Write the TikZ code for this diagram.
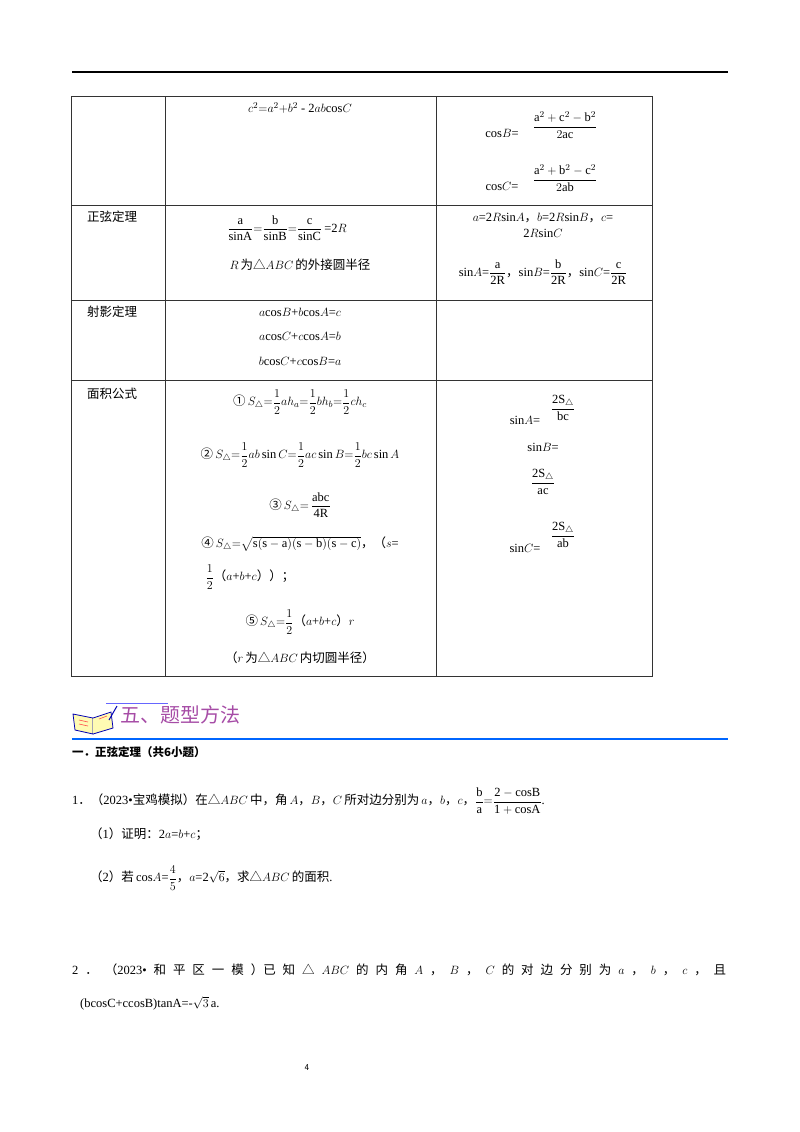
\documentclass[tikz,border=0pt]{standalone}
\usepackage{fontspec}
\usepackage{amsmath}
\setmainfont{Liberation Serif}
\newfontfamily\cjk{Noto Sans CJK SC}
\newcommand{\zh}[1]{{\cjk #1}}
\newcommand{\CO}{\zh{，}}
\newcommand{\LP}{\zh{（}}
\newcommand{\RP}{\zh{）}}
\newcommand{\TR}{\zh{△}}
\newcommand{\SC}{\zh{；}}
\begin{document}
\begin{tikzpicture}[x=1pt,y=-1pt,
  t/.style={inner sep=0pt,font=\fontsize{12.5}{14}\selectfont},
  tl/.style={t,anchor=west},
  grid/.style={line width=0.8pt,black!80}]
\useasboundingbox (0,0) rectangle (800,1132);
\draw[line width=1.2pt] (72,72) -- (728,72);
% table
\draw[grid] (71,96) rectangle (652,676);
\foreach \y in {205,300,380} \draw[grid] (71,\y) -- (652,\y);
\foreach \x in {165,436} \draw[grid] (\x,96) -- (\x,676);
% col 1
\node[t] (l1) at (112,217) {\zh{正弦定理}};
\node[t] (l2) at (112,312) {\zh{射影定理}};
\node[t] (l3) at (112,394) {\zh{面积公式}};
% row1
\node[t] (r1a) at (300,108) {$c^2{=}a^2{+}b^2$ - 2$ab$cos$C$};
\node[t] (r1b) at (502,133) {cos$B$=};
\node[t] (r1c) at (565,125) {$\dfrac{\mathrm{a}^2+\mathrm{c}^2-\mathrm{b}^2}{2\mathrm{ac}}$};
\node[t] (r1d) at (502,186) {cos$C$=};
\node[t] (r1e) at (565,178) {$\dfrac{\mathrm{a}^2+\mathrm{b}^2-\mathrm{c}^2}{2\mathrm{ab}}$};
% row2
\node[t] (r2a) at (287,228) {$\dfrac{\mathrm{a}}{\mathrm{sinA}}{=}\dfrac{\mathrm{b}}{\mathrm{sinB}}{=}\dfrac{\mathrm{c}}{\mathrm{sinC}}$\,=2$R$};
\node[t] (r2b) at (300,265) {$R$\,\zh{为}\TR$ABC$\,\zh{的外接圆半径}};
\node[t] (r2c) at (543,218) {$a$=2$R$sin$A$\CO$b$=2$R$sin$B$\CO$c$=};
\node[t] (r2d) at (543,233) {2$R$sin$C$};
\node[t] (r2e) at (543,272) {sin$A$=$\dfrac{\mathrm{a}}{\mathrm{2R}}$\CO sin$B$=$\dfrac{\mathrm{b}}{\mathrm{2R}}$\CO sin$C$=$\dfrac{\mathrm{c}}{\mathrm{2R}}$};
% row3
\node[t] (r3a) at (300,312) {$a$cos$B$+$b$cos$A$=$c$};
\node[t] (r3b) at (300,336) {$a$cos$C$+$c$cos$A$=$b$};
\node[t] (r3c) at (300,361) {$b$cos$C$+$c$cos$B$=$a$};
% row4
\node[t] (a1) at (300,402) {\zh{①}\,$S_\triangle{=}\dfrac12ah_a{=}\dfrac12bh_b{=}\dfrac12ch_c$};
\node[t] (a2) at (300,455) {\zh{②}\,$S_\triangle{=}\dfrac12ab\sin C{=}\dfrac12ac\sin B{=}\dfrac12bc\sin A$};
\node[t] (a3) at (300,505) {\zh{③}\,$S_\triangle{=}\,\dfrac{\mathrm{abc}}{\mathrm{4R}}$};
\node[t] (a4) at (300,544) {\zh{④}\,$S_\triangle{=}\sqrt{\mathrm{s(s-a)(s-b)(s-c)}}$\CO\LP$s$=};
\node[t] (a5) at (250,577) {$\dfrac12$\LP$a$+$b$+$c$\RP\RP\SC};
\node[t] (a6) at (300,622) {\zh{⑤}\,$S_\triangle{=}\dfrac12$\LP$a$+$b$+$c$\RP$r$};
\node[t] (a7) at (300,658) {\LP$r$\,\zh{为}\TR$ABC$\,\zh{内切圆半径}\RP};
\node[t] (s1) at (525,420) {sin$A$=};
\node[t] (s2) at (563,408) {$\dfrac{\mathrm{2S_\triangle}}{\mathrm{bc}}$};
\node[t] (s3) at (543,447) {sin$B$=};
\node[t] (s4) at (543,482) {$\dfrac{\mathrm{2S_\triangle}}{\mathrm{ac}}$};
\node[t] (s5) at (525,548) {sin$C$=};
\node[t] (s6) at (563,535) {$\dfrac{\mathrm{2S_\triangle}}{\mathrm{ab}}$};
% header
\begin{scope}[shift={(95,722)}]
\draw[blue!70!black,fill=yellow!30,line width=0.8pt] (-22,-8) -- (-2,-4) -- (-2,12) -- (-20,8) -- cycle;
\draw[blue!70!black,fill=yellow!30,line width=0.8pt] (-2,-4) -- (16,-10) -- (18,6) -- (-2,12);
\draw[red!70,line width=0.6pt] (-16,-2) -- (-7,0) (-16,2) -- (-7,4) (4,-3) -- (12,-6);
\draw[blue!70!black,line width=1pt] (14,-2) -- (22,-16);
\end{scope}
\draw[blue!60!white,line width=0.8pt] (106,703) -- (168,703);
\node[tl,font=\fontsize{20}{22}\selectfont,text=violet!70] (h) at (120,715) {\zh{五、题型方法}};
\draw[blue!60!cyan,line width=1.4pt] (72,739) -- (728,739);
\node[tl,font=\fontsize{11.5}{13}\selectfont\bfseries] (h2) at (72,752) {\zh{\bfseries 一．正弦定理（共6小题）}};
% problem 1
\node[tl] (p1) at (72,801) {1\zh{．}\LP 2023•\zh{宝鸡模拟}\RP\zh{在}\TR$ABC$\,\zh{中，角}\,$A$\CO$B$\CO$C$\,\zh{所对边分别为}\,$a$\CO$b$\CO$c$\CO$\dfrac{\mathrm{b}}{\mathrm{a}}{=}\dfrac{\mathrm{2-cosB}}{\mathrm{1+cosA}}$.};
\node[tl] (p11) at (90,834) {\LP 1\RP\zh{证明：}2$a$=$b$+$c$\SC};
\node[tl] (p12) at (90,878) {\LP 2\RP\zh{若}\,cos$A$=$\dfrac45$\CO$a$=2$\sqrt6$\CO\zh{求}\TR$ABC$\,\zh{的面积}.};
% problem 2
\node[tl] (p2) at (72,970) {\makebox[654pt][s]{2 \zh{．} \LP 2023• \zh{和} \zh{平} \zh{区} \zh{一} \zh{模} \RP \zh{已} \zh{知} \TR\ $ABC$ \zh{的} \zh{内} \zh{角} $A$ \zh{，} $B$ \zh{，} $C$ \zh{的} \zh{对} \zh{边} \zh{分} \zh{别} \zh{为} $a$ \zh{，} $b$ \zh{，} $c$ \zh{，} \zh{且}}};
\node[tl] (p22) at (80,1003) {(bcosC+ccosB)tanA=-$\sqrt3$\,a.};
\node[t,font=\fontsize{9}{10}\selectfont\sffamily] (pg) at (307,1068) {4};
\end{tikzpicture}
\end{document}
